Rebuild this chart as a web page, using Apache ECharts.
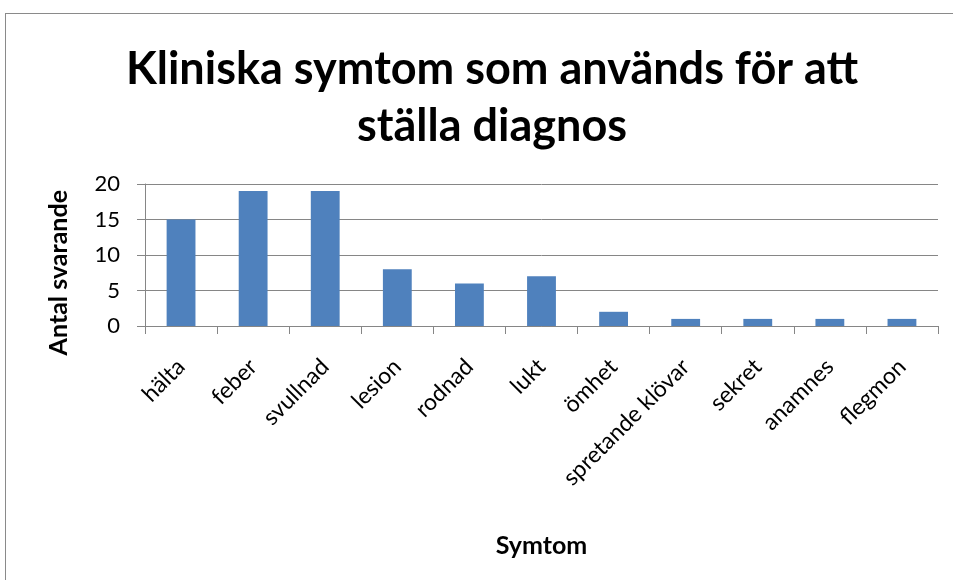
<!DOCTYPE html>
<html><head><meta charset="utf-8">
<script src="https://cdn.jsdelivr.net/npm/echarts@6/dist/echarts.min.js"></script>
<style>
html,body{margin:0;padding:0;background:#fff;overflow:hidden;width:953px;height:580px;}
#frame{position:absolute;left:5px;top:13px;width:1000px;height:700px;border:1.5px solid #8a8a8a;box-sizing:border-box;}
#c{position:absolute;left:0;top:0;width:953px;height:580px;}
</style></head>
<body>
<div id="frame"></div>
<div id="c"></div>
<script>
const titleLines = ["Kliniska symtom som används för att", "ställa diagnos"];
const categories = ["hälta","feber","svullnad","lesion","rodnad","lukt","ömhet","spretande klövar","sekret","anamnes","flegmon"];
const values = [15,19,19,8,6,7,2,1,1,1,1];
const yTicks = {min:0, max:20, interval:5};
const yName = "Antal svarande";
const xName = "Symtom";

const font = "Lato, 'Open Sans', sans-serif";
const chart = echarts.init(document.getElementById('c'));
chart.setOption({
  backgroundColor: 'transparent',
  animation: false,
  title: {
    text: titleLines.join('\n'),
    left: 487, top: 36, textAlign: 'center',
    textStyle: {fontFamily: font, fontSize: 45, fontWeight: 'bold', color: '#000', lineHeight: 57}
  },
  grid: {left: 145, right: 15, top: 184, bottom: 254, containLabel: false},
  xAxis: {
    type: 'category', data: categories,
    name: xName, nameLocation: 'middle', nameGap: 207,
    nameTextStyle: {fontFamily: font, fontSize: 25, fontWeight: 'bold', color: '#000'},
    axisLine: {lineStyle: {color: '#868686', width: 1}},
    axisTick: {show: true, length: 8, alignWithLabel: false, lineStyle: {color: '#868686'}},
    axisLabel: {rotate: 45, margin: 37, interval: 0, fontFamily: font, fontSize: 23, color: '#000'}
  },
  yAxis: {
    type: 'value', min: yTicks.min, max: yTicks.max, interval: yTicks.interval,
    axisLine: {show: true, lineStyle: {color: '#868686', width: 1}},
    axisTick: {show: true, length: 8, lineStyle: {color: '#868686'}},
    splitLine: {lineStyle: {color: '#868686', width: 1}},
    axisLabel: {margin: 25, fontFamily: font, fontSize: 22, color: '#000'}
  },
  graphic: [{
    type: 'text', left: 46, top: 190, rotation: Math.PI/2,
    style: {text: yName, fontFamily: font, fontSize: 25, fontWeight: 'bold', fill: '#000'}
  }],
  series: [{
    type: 'bar', data: values, barWidth: '40%',
    itemStyle: {color: '#4F81BD'}
  }]
});
</script>
</body></html>
